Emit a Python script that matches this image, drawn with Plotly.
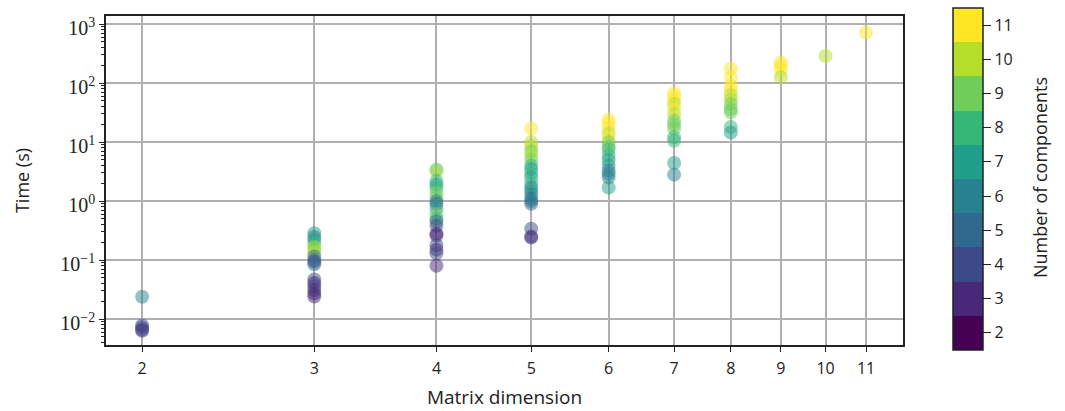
import numpy as np
import plotly.graph_objects as go

# ---- data ----
dim2_time = [0.0239, 0.0078, 0.0072, 0.0066, 0.0063]
dim2_comp = [6, 4, 4, 3, 4]

dim3_time = [0.285, 0.245, 0.22, 0.19, 0.165, 0.15, 0.137, 0.115, 0.100, 0.093, 0.085,
             0.047, 0.041, 0.036, 0.031, 0.027, 0.024]
dim3_comp = [7, 6, 7, 8, 10, 9, 10, 5, 5, 4, 5, 4, 3, 4, 3, 3, 3]

dim4_time = [3.4, 3.2, 2.2, 1.9, 1.7, 1.4, 1.15, 1.0, 0.9, 0.75, 0.6, 0.5, 0.45, 0.38,
             0.28, 0.26, 0.18, 0.15, 0.13, 0.08]
dim4_comp = [8, 10, 8, 7, 8, 9, 9, 6, 5, 7, 9, 8, 5, 4, 3, 3, 4, 3, 4, 3]

dim5_time = [17, 10, 8.5, 7, 6, 5, 4, 3.5, 3, 2.5, 2.0, 1.7, 1.5, 1.3, 1.1, 1.0, 0.9,
             0.34, 0.25, 0.24]
dim5_comp = [11, 10, 10, 9, 10, 9, 8, 7, 8, 7, 8, 6, 7, 6, 5, 6, 5, 4, 4, 3]

dim6_time = [24, 21, 17, 14, 12, 10, 8.5, 7.5, 6, 5, 4, 3.3, 2.9, 2.5, 1.7]
dim6_comp = [11, 11, 11, 10, 11, 9, 9, 8, 8, 7, 7, 6, 6, 6, 7]

dim7_time = [67, 60, 50, 44, 36, 30, 23, 20, 17, 12, 10.5, 4.4, 2.8]
dim7_comp = [11, 11, 11, 10, 11, 10, 9, 9, 9, 8, 8, 7, 6]

dim8_time = [175, 125, 90, 75, 62, 52, 44, 36, 32, 18, 14.5]
dim8_comp = [11, 11, 11, 11, 10, 10, 9, 9, 9, 8, 7]

dim9_time = [225, 195, 165, 125]
dim9_comp = [11, 11, 11, 10]

dim10_time = [287]
dim10_comp = [10]

dim11_time = [720]
dim11_comp = [11]

dims = [2, 3, 4, 5, 6, 7, 8, 9, 10, 11]
times_by_dim = [dim2_time, dim3_time, dim4_time, dim5_time, dim6_time,
                dim7_time, dim8_time, dim9_time, dim10_time, dim11_time]
comps_by_dim = [dim2_comp, dim3_comp, dim4_comp, dim5_comp, dim6_comp,
                dim7_comp, dim8_comp, dim9_comp, dim10_comp, dim11_comp]

x_ticks = [2, 3, 4, 5, 6, 7, 8, 9, 10, 11]
y_ticks = [1e-2, 1e-1, 1e0, 1e1, 1e2, 1e3]
y_ticktext = ["10<sup>−2</sup>", "10<sup>−1</sup>", "10<sup>0</sup>",
              "10<sup>1</sup>", "10<sup>2</sup>", "10<sup>3</sup>"]
cbar_ticks = [2, 3, 4, 5, 6, 7, 8, 9, 10, 11]
cbar_title = "Number of components"

viridis10 = ["#440154", "#482878", "#3e4989", "#31688e", "#26828e",
             "#1f9e89", "#35b779", "#6ece58", "#b5de2b", "#fde725"]

# ---- build ----
xs, ys, cs = [], [], []
for d, t, c in zip(dims, times_by_dim, comps_by_dim):
    xs += [d] * len(t)
    ys += t
    cs += c

n = len(viridis10)
colorscale = []
for i, col in enumerate(viridis10):
    colorscale.append([i / n, col])
    colorscale.append([(i + 1) / n, col])

minor_vals = [m * 10.0 ** e for e in range(-3, 4) for m in range(2, 10)]

sans = "Open Sans"
ink = "#222"
fig = go.Figure()
fig.add_trace(go.Scatter(
    x=xs, y=ys, mode="markers",
    marker=dict(size=14, color=cs, colorscale=colorscale, cmin=1.5, cmax=11.5,
                opacity=0.5, line=dict(width=0),
                colorbar=dict(
                    tickvals=cbar_ticks, ticktext=[str(v) for v in cbar_ticks],
                    tickprefix="\u00a0",
                    ticks="outside", ticklen=8, tickwidth=1.2, tickcolor=ink,
                    outlinecolor=ink, outlinewidth=1.5,
                    thickness=30, thicknessmode="pixels",
                    len=342, lenmode="pixels",
                    x=1.0627, xanchor="left", y=0.5046, yanchor="middle",
                    xpad=0, ypad=0,
                    tickfont=dict(family=sans, size=16, color=ink),
                )),
    showlegend=False,
))

fig.add_annotation(
    text=cbar_title, xref="paper", yref="paper", x=1.1719, y=0.5076,
    xanchor="center", yanchor="middle", textangle=-90, showarrow=False,
    font=dict(family=sans, size=18, color=ink),
)

fig.update_layout(
    width=1065, height=411,
    margin=dict(l=106, r=162, t=16, b=66, autoexpand=False),
    paper_bgcolor="white", plot_bgcolor="white",
    font=dict(family=sans, size=16, color=ink),
    xaxis=dict(
        type="log", range=[np.log10(1.837), np.log10(12.0)],
        tickvals=x_ticks, ticktext=[str(v) for v in x_ticks],
        showgrid=True, gridcolor="#b0b0b0", gridwidth=1.5,
        showline=True, linecolor=ink, linewidth=1.5, mirror=True,
        ticks="outside", ticklen=5, tickwidth=1.2, tickcolor=ink,
        tickfont=dict(family=sans, size=16, color=ink),
        ticklabelstandoff=3,
        automargin=False,
        title=dict(text="Matrix dimension", font=dict(family=sans, size=19, color=ink),
                   standoff=13),
        zeroline=False,
    ),
    yaxis=dict(
        type="log", range=[-2.44, 3.136],
        tickvals=y_ticks, ticktext=y_ticktext,
        showgrid=True, gridcolor="#b0b0b0", gridwidth=1.5,
        showline=True, linecolor=ink, linewidth=1.5, mirror=True,
        ticks="outside", ticklen=5, tickwidth=1.2, tickcolor=ink,
        tickfont=dict(family="Liberation Serif", size=20, color=ink),
        ticklabelshift=4,
        automargin=False,
        minor=dict(tickvals=minor_vals, ticks="outside", ticklen=3, tickwidth=0.8,
                   tickcolor=ink, showgrid=False),
        title=dict(text="Time (s)", font=dict(family=sans, size=18, color=ink),
                   standoff=26),
        zeroline=False,
    ),
)

fig.write_html("out.html")
